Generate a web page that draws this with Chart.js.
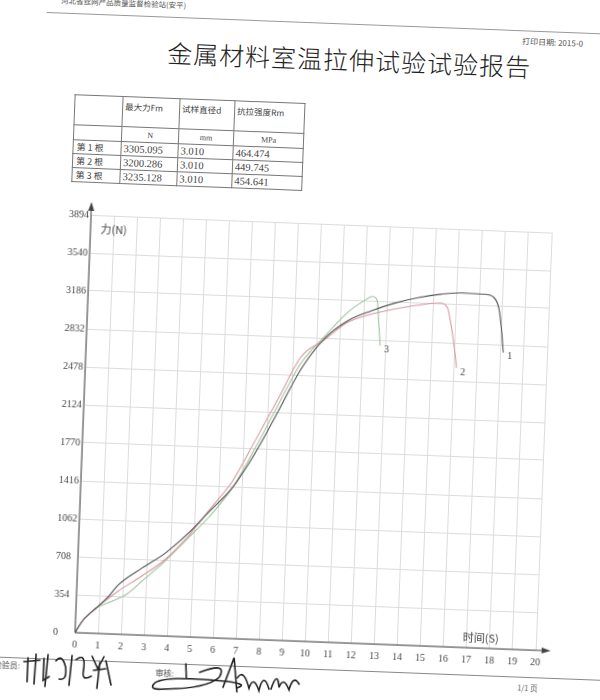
<!DOCTYPE html>
<html>
<head>
<meta charset="utf-8">
<title>金属材料室温拉伸试验试验报告</title>
<script src="https://cdn.jsdelivr.net/npm/chart.js"></script>
<style>
html, body { margin: 0; padding: 0; background: #fff; overflow: hidden; }
#page { position: relative; width: 600px; height: 700px; transform: rotate(2.2deg); transform-origin: 300px 350px;
        font-family: "Noto Sans CJK SC", sans-serif; color: #333; }
.abs { position: absolute; white-space: nowrap; }
#header { left: 48px; top: 4px; font-size: 7.5px; color: #555; }
#topline { left: 34px; top: 22px; width: 600px; border-top: 1px solid #999; }
#printDate { left: 510px; top: 27px; font-size: 8px; color: #555; }
#title { left: 0; width: 676px; top: 40px; line-height: 34px; text-align: center; font-size: 25px; letter-spacing: 1px; color: #222; font-weight: 300; }
#report { left: 65px; top: 103px; border-collapse: collapse; font-family: "Liberation Serif", serif; font-size: 10.5px; color: #444; }
#report td { border: 1px solid #777; padding: 0 2px; vertical-align: middle; white-space: nowrap; }
#report td.head { vertical-align: top; padding-top: 3px; font-family: "Noto Sans CJK SC", sans-serif; font-size: 8.5px; }
#report td.unit { text-align: center; font-size: 8px; }
#report td.cjk { font-family: "Noto Sans CJK SC", sans-serif; font-size: 9px; padding-left: 3px; }
#chartBox { left: 30px; top: 200px; width: 540px; height: 470px; }
#bottomline { left: 0; top: 668px; width: 620px; border-top: 1px solid #888; }
.sign { font-size: 8px; color: #444; }
#pageNo { left: 530px; top: 673px; font-size: 7.5px; color: #555; }
svg.abs { overflow: visible; }
</style>
</head>
<body>
<div id="page">
    <div id="header" class="abs">河北省丝网产品质量监督检验站(安平)</div>
    <div id="topline" class="abs"></div>
    <div id="printDate" class="abs">打印日期: 2015-0</div>
    <div id="title" class="abs">金属材料室温拉伸试验试验报告</div>

    <table id="report" class="abs"></table>

    <div id="chartBox" class="abs"><canvas id="tensileChart"></canvas></div>

    <div id="bottomline" class="abs"></div>
    <div class="abs sign" style="left:6px; top:670px;">检验员:</div>
    <div class="abs sign" style="left:168px; top:672px;">审核:</div>
    <div id="pageNo" class="abs">1/1 页</div>

    <!-- handwritten signatures, rough strokes -->
    <svg class="abs" style="left:0; top:0;" width="600" height="700">
        <g fill="none" stroke="#222" stroke-width="1.6" stroke-linecap="round">
            <path d="M40 668 L40 692 M36 672 L52 670 M48 664 L47 694 M56 668 L56 690 L62 686 M60 664 L58 696"/>
            <path d="M68 670 Q74 662 78 676 Q80 690 72 688 M84 664 L82 694 M88 668 Q98 660 96 678 Q94 690 104 684"/>
            <path d="M104 664 L110 676 L116 664 M106 678 L118 676 M112 670 L110 696 M118 668 L124 692"/>
            <path d="M198 668 L199 682"/>
            <path d="M212 676 Q240 664 232 680 Q220 692 178 694 Q160 696 168 688 Q178 680 240 684 Q262 686 250 690"/>
            <path d="M236 690 L246 660 L250 694 M250 680 Q256 670 262 690 Q266 676 272 692 Q276 672 282 690"/>
            <path d="M284 690 Q290 670 292 688 Q296 676 302 690 Q306 674 312 684"/>
        </g>
    </svg>
</div>

<script>
// specimen table
var specimens = ['第 1 根', '第 2 根', '第 3 根'];
var maxForce = ['3305.095', '3200.286', '3235.128'];
var diameters = ['3.010', '3.010', '3.010'];
var strengths = ['464.474', '449.745', '454.641'];
var headers = ['最大力Fm', '试样直径d', '抗拉强度Rm'];
var units = ['N', 'mm', 'MPa'];

// curves (time s / force N)
var time1 = [0, 0.3, 0.5, 0.9, 1.4, 1.8, 2.8, 3.8, 4.7, 5.6, 6.6, 7.5, 8.4, 9.35, 10.3, 11.3, 12.3, 13.3, 14.3, 15.3, 16.2, 17.2, 17.6, 17.85, 18.0, 18.1];
var force1 = [0, 110, 160, 240, 350, 460, 625, 775, 955, 1170, 1410, 1730, 2115, 2530, 2820, 3000, 3100, 3180, 3240, 3280, 3300, 3296, 3270, 3160, 2950, 2760];

var time2 = [0, 0.3, 0.5, 0.9, 1.8, 2.8, 3.8, 4.7, 5.6, 6.6, 7.5, 8.4, 9.35, 10.3, 11.3, 12.3, 13.3, 14.3, 15.3, 15.6, 15.8, 16.0, 16.1];
var force2 = [0, 110, 160, 240, 400, 550, 715, 925, 1185, 1475, 1855, 2240, 2650, 2810, 2985, 3070, 3125, 3170, 3198, 3160, 2990, 2750, 2600];

var time3 = [0, 0.3, 0.5, 0.9, 1.4, 1.8, 2.2, 2.8, 3.8, 4.7, 5.6, 6.6, 7.5, 8.4, 9.35, 10.3, 11.3, 11.9, 12.35, 12.55, 12.65, 12.75];
var force3 = [0, 110, 160, 240, 290, 330, 380, 500, 700, 910, 1120, 1410, 1780, 2180, 2590, 2840, 3080, 3180, 3235, 3200, 3000, 2780];

var curveNames = ['1', '2', '3'];
var curveColors = ['#555555', '#d59aa2', '#9fc29f'];
var forceTicks = [0, 354, 708, 1062, 1416, 1770, 2124, 2478, 2832, 3186, 3540, 3894];
var timeTicks = [0, 1, 2, 3, 4, 5, 6, 7, 8, 9, 10, 11, 12, 13, 14, 15, 16, 17, 18, 19, 20];

//----------------------------------------------------------------------------------------
// build the table
var colWidths = [48, 57, 55, 70];
var rowHeights = [30, 15, 14, 14, 14];
var html = '<tr style="height:' + rowHeights[0] + 'px"><td style="width:' + (colWidths[0] - 5) + 'px"></td>';
for (var i in headers) {
    html += '<td class="head" style="width:' + (colWidths[+i + 1] - 5) + 'px">' + headers[i] + '</td>';
}
html += '</tr><tr style="height:' + rowHeights[1] + 'px"><td></td>';
for (var i in units) {
    html += '<td class="unit">' + units[i] + '</td>';
}
html += '</tr>';
for (var i in specimens) {
    html += '<tr style="height:' + rowHeights[+i + 2] + 'px"><td class="cjk">' + specimens[i] + '</td><td>' + maxForce[i] +
        '</td><td>' + diameters[i] + '</td><td>' + strengths[i] + '</td></tr>';
}
document.getElementById('report').innerHTML = html;

//----------------------------------------------------------------------------------------
// axes with arrows, axis names and curve numbers
var axisDecor = {
    id: 'axisDecor',
    afterDraw: function(chart) {
        var ctx = chart.ctx;
        var a = chart.chartArea;
        var xs = chart.scales.x;
        var ys = chart.scales.y;
        ctx.save();
        ctx.strokeStyle = '#444';
        ctx.fillStyle = '#444';
        ctx.lineWidth = 1;
        ctx.beginPath();
        ctx.moveTo(a.left, a.bottom);
        ctx.lineTo(a.left, a.top - 8);
        ctx.moveTo(a.left, a.bottom);
        ctx.lineTo(a.right + 10, a.bottom);
        ctx.stroke();

        ctx.beginPath();
        ctx.moveTo(a.left, a.top - 13);
        ctx.lineTo(a.left - 3, a.top - 4);
        ctx.lineTo(a.left + 3, a.top - 4);
        ctx.fill();
        ctx.beginPath();
        ctx.moveTo(a.right + 15, a.bottom);
        ctx.lineTo(a.right + 6, a.bottom - 3);
        ctx.lineTo(a.right + 6, a.bottom + 3);
        ctx.fill();

        ctx.font = '11px "Noto Sans CJK SC"';
        ctx.textBaseline = 'middle';
        ctx.textAlign = 'left';
        ctx.fillText('力(N)', a.left + 10, a.top + 14);
        ctx.textAlign = 'center';
        ctx.fillText('时间(S)', xs.getPixelForValue(17.6), a.bottom - 10);

        ctx.font = '10px "Liberation Serif"';
        ctx.textAlign = 'left';
        chart.data.datasets.forEach(function(ds, i) {
            var last = ds.data[ds.data.length - 1];
            ctx.fillText(curveNames[i], xs.getPixelForValue(last.x) + 4, ys.getPixelForValue(last.y) + 4);
        });
        ctx.restore();
    }
};

function points(times, forces) {
    var out = [];
    for (var i in times) {
        out.push({x: times[i], y: forces[i]});
    }
    return out;
}

var allTimes = [time1, time2, time3];
var allForces = [force1, force2, force3];
var datasets = [];
for (var i in allTimes) {
    datasets.push({
        label: curveNames[i],
        data: points(allTimes[i], allForces[i]),
        showLine: true,
        borderColor: curveColors[i],
        borderWidth: 1.1,
        pointRadius: 0,
        cubicInterpolationMode: 'monotone'
    });
}

var tickFont = {family: '"Liberation Serif", serif', size: 10};

new Chart(document.getElementById('tensileChart'), {
    type: 'scatter',
    data: {datasets: datasets},
    options: {
        responsive: true,
        maintainAspectRatio: false,
        animation: false,
        layout: {padding: {left: 34, top: 23, right: 23, bottom: 0}},
        plugins: {legend: {display: false}, tooltip: {enabled: false}},
        scales: {
            x: {
                type: 'linear',
                min: 0,
                max: 20,
                afterBuildTicks: function(axis) {
                    axis.ticks = timeTicks.map(function(v) { return {value: v}; });
                },
                afterFit: function(axis) { axis.height = 29; },
                grid: {color: '#dcdcdc', drawTicks: false},
                border: {display: false},
                ticks: {font: tickFont, color: '#444', padding: 6, maxRotation: 0, autoSkip: false,
                        callback: function(v) { return String(v); }}
            },
            y: {
                min: 0,
                max: 3894,
                afterBuildTicks: function(axis) {
                    axis.ticks = forceTicks.map(function(v) { return {value: v}; });
                },
                afterFit: function(axis) { axis.width = 22; },
                grid: {color: '#dcdcdc', drawTicks: false},
                border: {display: false},
                ticks: {font: tickFont, color: '#444', padding: 2, crossAlign: 'far', autoSkip: false,
                        callback: function(v) { return String(v); }}
            }
        }
    },
    plugins: [axisDecor]
});
</script>
</body>
</html>
